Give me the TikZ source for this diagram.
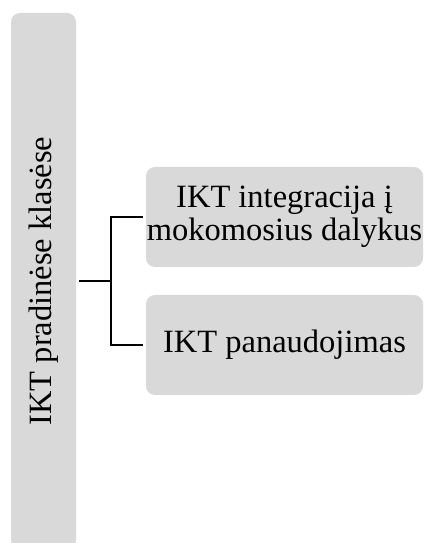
\documentclass[tikz,border=0pt]{standalone}
\usepackage{fontspec}
\setmainfont{Liberation Serif}
\begin{document}
\begin{tikzpicture}[x=1pt,y=1pt,
  box/.style={fill=boxgray, rounded corners=9pt, inner sep=0pt},
  conn/.style={line width=2.4pt, black},
  txt/.style={font=\fontsize{32.5}{33}\selectfont, align=center, inner sep=0pt}]
\definecolor{boxgray}{HTML}{D9D9D9}
\useasboundingbox (0,0) rectangle (424,543);
% main topic column
\node[box, minimum width=65pt, minimum height=536pt] (L) at (43.5,262) {};
\node[txt, rotate=90] (Lt) at (L.center) {IKT pradinėse klasėse};
% subtopics
\node[box, minimum width=277pt, minimum height=100pt] (A) at (284.5,326) {};
\node[txt] (At) at (A.center) {IKT integracija į\\mokomosius dalykus};
\node[box, minimum width=277pt, minimum height=100pt] (B) at (284.5,198) {};
\node[txt] (Bt) at (B.center) {IKT panaudojimas};
% bracket connectors
\coordinate (j) at (111,262);
\draw[conn, shorten <=3pt] (L.east) -- (j);
\draw[conn, shorten <=3pt, shorten >=3pt] (A.west) -| (j) |- (B.west);
\end{tikzpicture}
\end{document}
